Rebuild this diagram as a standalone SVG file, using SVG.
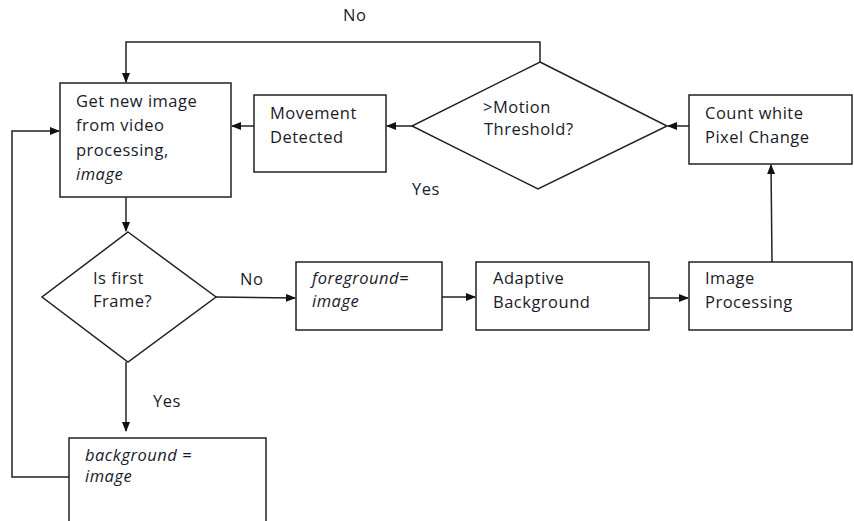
<svg xmlns="http://www.w3.org/2000/svg" width="854" height="521" viewBox="0 0 854 521">
<defs>
<marker id="ah" markerWidth="10" markerHeight="8" refX="9" refY="4" orient="auto" markerUnits="userSpaceOnUse">
<path d="M0,0 L10,4 L0,8 Z" fill="#111"/>
</marker>
<style>
.box{fill:#fff;stroke:#222;stroke-width:1.5}
.t{font-family:"Open Sans","Liberation Sans",sans-serif;font-size:16.5px;letter-spacing:0.5px;fill:#1a1a2a}
.i{font-style:italic}
.c{fill:none;stroke:#222;stroke-width:1.5}
</style>
</defs>
<rect width="854" height="521" fill="#fff"/>
<g id="connectors">
<polyline class="c" points="540,62 540,42 126,42 126,82" marker-end="url(#ah)"/>
<line class="c" x1="254" y1="126" x2="232" y2="126" marker-end="url(#ah)"/>
<line class="c" x1="412" y1="126" x2="387" y2="126" marker-end="url(#ah)"/>
<line class="c" x1="689" y1="126" x2="668" y2="126" marker-end="url(#ah)"/>
<line class="c" x1="772" y1="262" x2="771" y2="165" marker-end="url(#ah)"/>
<line class="c" x1="126" y1="197" x2="126" y2="231" marker-end="url(#ah)"/>
<line class="c" x1="216" y1="297" x2="295" y2="298" marker-end="url(#ah)"/>
<line class="c" x1="442" y1="297" x2="475" y2="297" marker-end="url(#ah)"/>
<line class="c" x1="649" y1="298" x2="688" y2="298" marker-end="url(#ah)"/>
<line class="c" x1="126" y1="362" x2="126" y2="431" marker-end="url(#ah)"/>
<polyline class="c" points="69,477 12,477 12,131 59,131" marker-end="url(#ah)"/>
<text class="t" x="343" y="21">No</text>
<text class="t" x="412" y="195">Yes</text>
<text class="t" x="240" y="285">No</text>
<text class="t" x="153" y="407">Yes</text>
</g>
<g id="get-image">
<rect class="box" x="60" y="83" width="171" height="114"/>
<text class="t" x="76" y="107">Get new image</text>
<text class="t" x="76" y="131">from video</text>
<text class="t" x="76" y="156">processing,</text>
<text class="t i" x="76" y="180">image</text>
</g>
<g id="movement">
<rect class="box" x="254" y="95" width="132" height="77"/>
<text class="t" x="270" y="119">Movement</text>
<text class="t" x="270" y="143">Detected</text>
</g>
<g id="threshold">
<polygon class="box" points="540,62 667,126 538,189 412,126"/>
<text class="t" x="483" y="113">&gt;Motion</text>
<text class="t" x="484" y="135">Threshold?</text>
</g>
<g id="count">
<rect class="box" x="689" y="95" width="163" height="69"/>
<text class="t" x="705" y="119">Count white</text>
<text class="t" x="705" y="143">Pixel Change</text>
</g>
<g id="first-frame">
<polygon class="box" points="128,232 216,297 128,362 42,297"/>
<text class="t" x="93" y="284">Is first</text>
<text class="t" x="93" y="307">Frame?</text>
</g>
<g id="foreground">
<rect class="box" x="296" y="262" width="146" height="68"/>
<text class="t i" x="312" y="284">foreground=</text>
<text class="t i" x="312" y="307">image</text>
</g>
<g id="adaptive">
<rect class="box" x="476" y="262" width="173" height="68"/>
<text class="t" x="493" y="284">Adaptive</text>
<text class="t" x="493" y="308">Background</text>
</g>
<g id="image-processing">
<rect class="box" x="689" y="262" width="163" height="68"/>
<text class="t" x="705" y="284">Image</text>
<text class="t" x="705" y="308">Processing</text>
</g>
<g id="background">
<path class="box" d="M69,522 L69,438 L266,438 L266,522"/>
<text class="t i" x="85" y="461">background =</text>
<text class="t i" x="85" y="482">image</text>
</g>
</svg>
